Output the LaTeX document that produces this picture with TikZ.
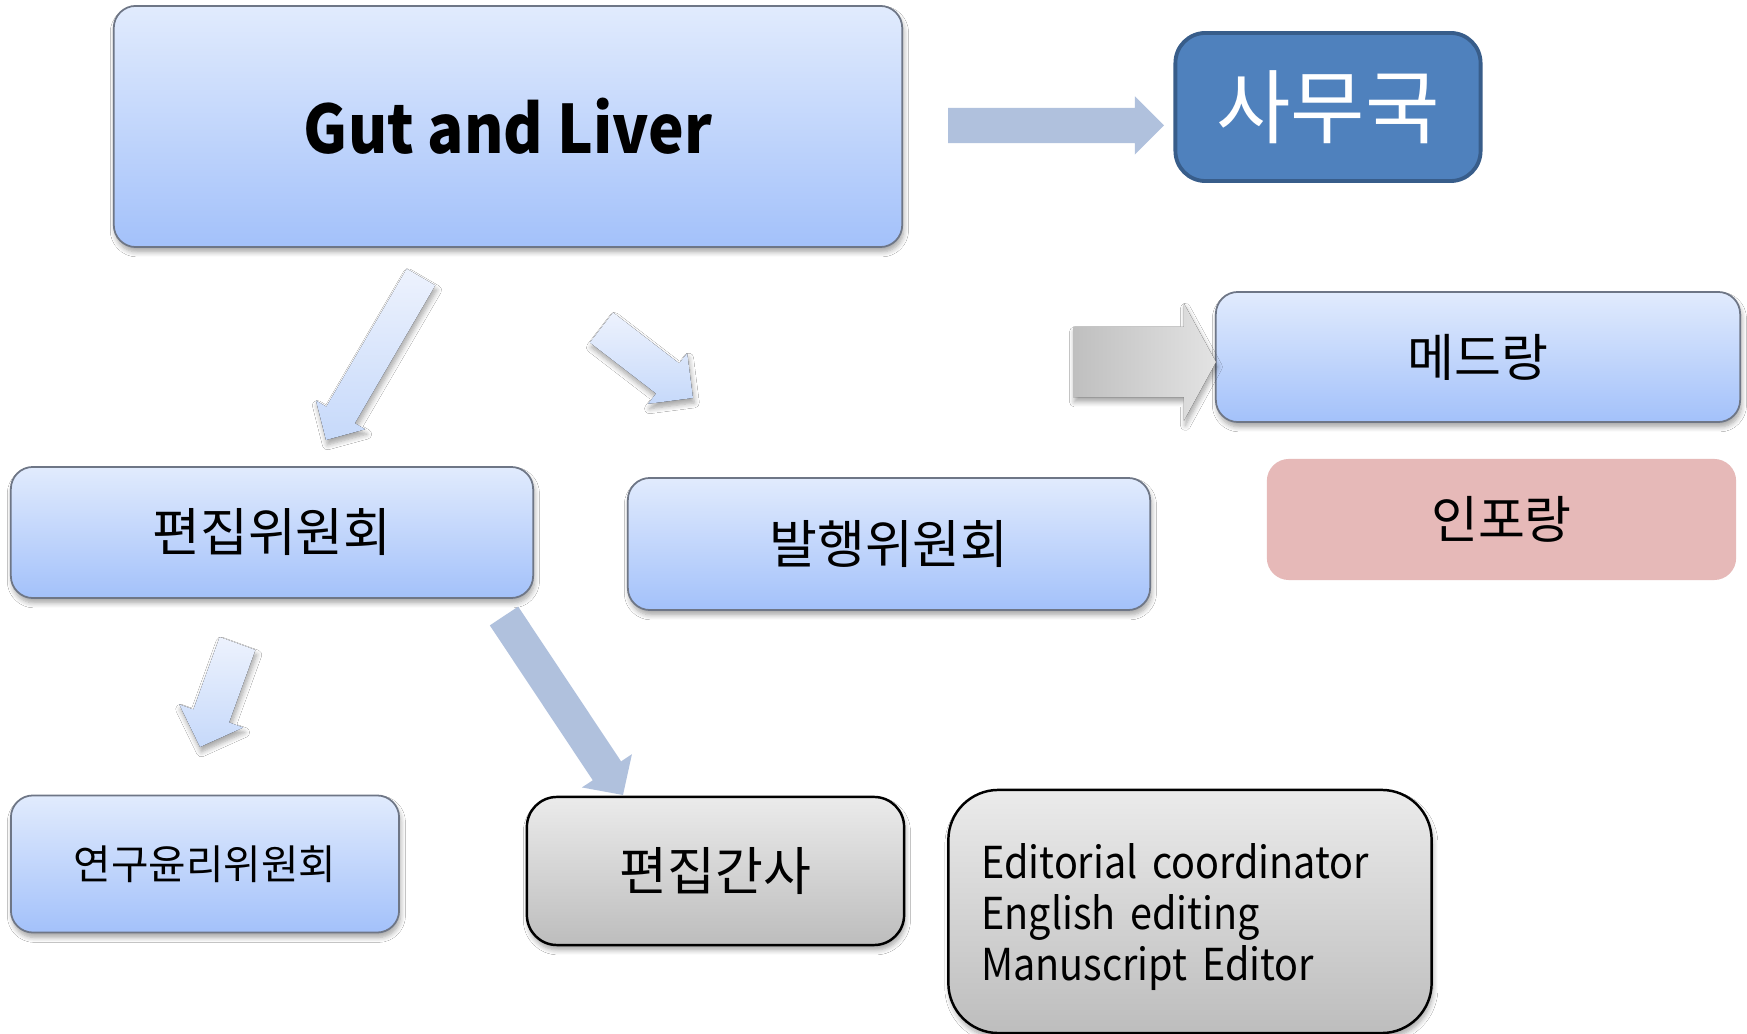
\documentclass[tikz,border=0pt]{standalone}
\usepackage{fontspec}
\setmainfont{Noto Sans CJK KR}
\newfontfamily\latinnarrow{Noto Sans CJK KR}[FakeStretch=0.9]
\usepackage{tikz}
\usetikzlibrary{calc}
\usetikzlibrary{shadows.blur}
\definecolor{boxtop}{HTML}{E1EBFD}
\definecolor{boxbot}{HTML}{A3C1FA}
\definecolor{boxline}{HTML}{6E7686}
\definecolor{officefill}{HTML}{4F81BD}
\definecolor{officeline}{HTML}{385D8A}
\definecolor{pinkfill}{HTML}{E6B9B8}
\definecolor{greytop}{HTML}{EBEBEB}
\definecolor{greybot}{HTML}{BDBDBD}
\definecolor{arrtop}{HTML}{EDF2FD}
\definecolor{arrbot}{HTML}{C6D9FA}
\definecolor{arrblue}{HTML}{B0C1DD}
\tikzset{
	soft shadow/.style={blur shadow={shadow xshift=0.4pt, shadow yshift=-1.4pt,
		shadow blur radius=1.4pt, shadow blur steps=6, shadow opacity=35}},
	main box/.style={rectangle, rounded corners=0.22cm, draw=boxline, line width=0.5pt,
		top color=boxtop, bottom color=boxbot, inner sep=0pt, soft shadow},
	office box/.style={rectangle, rounded corners=0.3cm, draw=officeline, line width=1.1pt,
		fill=officefill, text=white, inner sep=0pt},
	pink box/.style={rectangle, rounded corners=0.22cm, fill=pinkfill, inner sep=0pt},
	grey box/.style={rectangle, rounded corners=0.3cm, draw=black, line width=0.7pt,
		top color=greytop, bottom color=greybot, inner sep=0pt, soft shadow},
	light arrow/.style={top color=arrtop, bottom color=arrbot, soft shadow},
	blue arrow/.style={fill=arrblue},
	grey arrow/.style={left color=black!25, right color=black!11, soft shadow}
}
% [style]{tail}{tip}{half shaft}{half head}{head length}
\newcommand{\blockarrow}[6][]{%
	\coordinate (hb) at ($(#3)!#6!(#2)$);
	\fill[#1] ($(#2)!#4!90:(#3)$) -- ($(hb)!#4!90:(#3)$) -- ($(hb)!#5!90:(#3)$) -- (#3)
		-- ($(hb)!#5!-90:(#3)$) -- ($(hb)!#4!-90:(#3)$) -- ($(#2)!#4!-90:(#3)$) -- cycle;
}

\begin{document}
\begin{tikzpicture}[x=0.01cm,y=-0.01cm]
	\useasboundingbox (0,0) rectangle (1747,1034);
	\fill[white] (0,0) rectangle (1747,1034);
	% boxes
	\node [main box, minimum width=7.88cm, minimum height=2.41cm,
		font=\fontsize{19}{23}\latinnarrow\bfseries] (gut) at (508,126.5) {Gut and Liver};
	\node [office box, minimum width=3.05cm, minimum height=1.48cm,
		font=\fontsize{23}{27}\selectfont] (samu) at (1328,107) {사무국};
	\node [main box, minimum width=5.24cm, minimum height=1.30cm,
		font=\fontsize{14.5}{17}\selectfont] (medrang) at (1478,357) {메드랑};
	\node [pink box, minimum width=4.69cm, minimum height=1.21cm,
		font=\fontsize{14.5}{17}\selectfont] (inforang) at (1501.5,519.5) {인포랑};
	\node [main box, minimum width=5.22cm, minimum height=1.31cm,
		font=\fontsize{14.8}{17}\selectfont] (editcomm) at (272,532.5) {편집위원회};
	\node [main box, minimum width=5.22cm, minimum height=1.32cm,
		font=\fontsize{14.8}{17}\selectfont] (pubcomm) at (889,544) {발행위원회};
	\node [main box, minimum width=3.88cm, minimum height=1.37cm,
		font=\fontsize{11.6}{14}\selectfont] (ethics) at (205,864) {연구윤리위원회};
	\node [grey box, minimum width=3.77cm, minimum height=1.48cm,
		font=\fontsize{14.8}{17}\selectfont] (secretary) at (715.5,871) {편집간사};
	\node [grey box, rounded corners=0.5cm, minimum width=4.83cm, minimum height=2.43cm,
		inner xsep=0.33cm, text width=4.17cm, align=left,
		font=\fontsize{12.5}{14.5}\latinnarrow] (staff) at (1190,911.5)
		{\rule{0pt}{13pt}Editorial coordinator\\English editing\\Manuscript Editor};
	% arrows
	\coordinate (gutL-s) at (421,277);
	\coordinate (gutL-e) at (326,440);
	\coordinate (gutR-s) at (601.5,327.5);
	\coordinate (gutR-e) at (693,398);
	\coordinate (editL-s) at (237.5,643.5);
	\coordinate (editL-e) at (200,747);
	\coordinate (editR-s) at (504,616);
	\coordinate (editR-e) at (623,795);
	\coordinate (samu-s) at (948,125.5);
	\coordinate (samu-e) at (1164,125.5);
	\coordinate (med-s) at (1073,362);
	\coordinate (med-e) at (1216,362);
	\blockarrow[light arrow]{gutL-s}{gutL-e}{0.165cm}{0.285cm}{0.29cm}
	\blockarrow[light arrow]{gutR-s}{gutR-e}{0.19cm}{0.32cm}{0.32cm}
	\blockarrow[light arrow]{editL-s}{editL-e}{0.19cm}{0.34cm}{0.33cm}
	\blockarrow[blue arrow]{editR-s}{editR-e}{0.17cm}{0.3cm}{0.29cm}
	\blockarrow[blue arrow]{samu-s}{samu-e}{0.175cm}{0.29cm}{0.29cm}
	\blockarrow[grey arrow]{med-s}{med-e}{0.35cm}{0.585cm}{0.32cm}
\end{tikzpicture}
\end{document}
